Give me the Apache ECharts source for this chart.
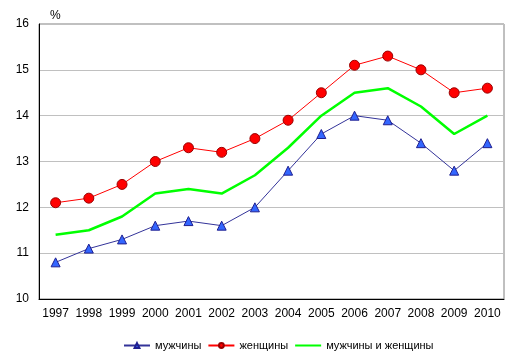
<!DOCTYPE html>
<html><head><meta charset="utf-8">
<script src="https://cdn.jsdelivr.net/npm/echarts@6/dist/echarts.min.js"></script>
<style>html,body{margin:0;padding:0;background:#fff}#c{width:519px;height:362px}</style>
</head><body><div id="c"></div>
<script>
var years = ['1997','1998','1999','2000','2001','2002','2003','2004','2005','2006','2007','2008','2009','2010'];
var men = [10.8, 11.1, 11.3, 11.6, 11.7, 11.6, 12.0, 12.8, 13.6, 14.0, 13.9, 13.4, 12.8, 13.4];
var women = [12.1, 12.2, 12.5, 13.0, 13.3, 13.2, 13.5, 13.9, 14.5, 15.1, 15.3, 15.0, 14.5, 14.6];
var total = [11.4, 11.5, 11.8, 12.3, 12.4, 12.3, 12.7, 13.3, 14.0, 14.5, 14.6, 14.2, 13.6, 14.0];
var yTicks = [10, 11, 12, 13, 14, 15, 16];

var chart = echarts.init(document.getElementById('c'), null, {renderer: 'canvas'});
var font = 'Liberation Sans, Arial, sans-serif';
chart.setOption({
  animation: false,
  textStyle: {fontFamily: font},
  grid: {left: 39, top: 24, right: 15, bottom: 63, show: true, borderColor: '#808080', borderWidth: 1},
  title: {text: '%', left: 50, top: 10, padding: 0, textStyle: {fontSize: 12, fontWeight: 'normal', color: '#000', fontFamily: font}},
  legend: {
    top: 340, left: 123, itemWidth: 26, itemHeight: 6, itemGap: 6, padding: 0,
    textStyle: {fontSize: 11, color: '#000', fontFamily: font},
    data: [
      {name: 'мужчины'},
      {name: 'женщины'},
      {name: 'мужчины и женщины', itemStyle: {opacity: 0}}
    ]
  },
  xAxis: {
    type: 'category', data: years, boundaryGap: true,
    axisLine: {lineStyle: {color: '#000', width: 1}},
    axisTick: {show: false},
    axisLabel: {color: '#000', fontSize: 12, margin: 9, fontFamily: font, interval: 0}
  },
  yAxis: {
    type: 'value', min: yTicks[0], max: yTicks[yTicks.length - 1], interval: 1,
    axisLine: {show: true, lineStyle: {color: '#000', width: 1}},
    axisTick: {show: false},
    axisLabel: {color: '#000', fontSize: 12, margin: 10, fontFamily: font},
    splitLine: {lineStyle: {color: '#C0C0C0', width: 1}}
  },
  series: [
    {name: 'мужчины', type: 'line', data: men, symbol: 'triangle', symbolSize: 9,
     lineStyle: {color: '#333399', width: 1}, itemStyle: {color: '#3366FF', borderColor: '#1F1F8F', borderWidth: 1}},
    {name: 'женщины', type: 'line', data: women, symbol: 'circle', symbolSize: 10,
     lineStyle: {color: '#FF0000', width: 1}, itemStyle: {color: '#FF0000', borderColor: '#990000', borderWidth: 1}},
    {name: 'мужчины и женщины', type: 'line', data: total, symbol: 'none', showSymbol: false,
     lineStyle: {color: '#00FF00', width: 2.5}, itemStyle: {color: '#00FF00'}}
  ]
});
</script></body></html>
